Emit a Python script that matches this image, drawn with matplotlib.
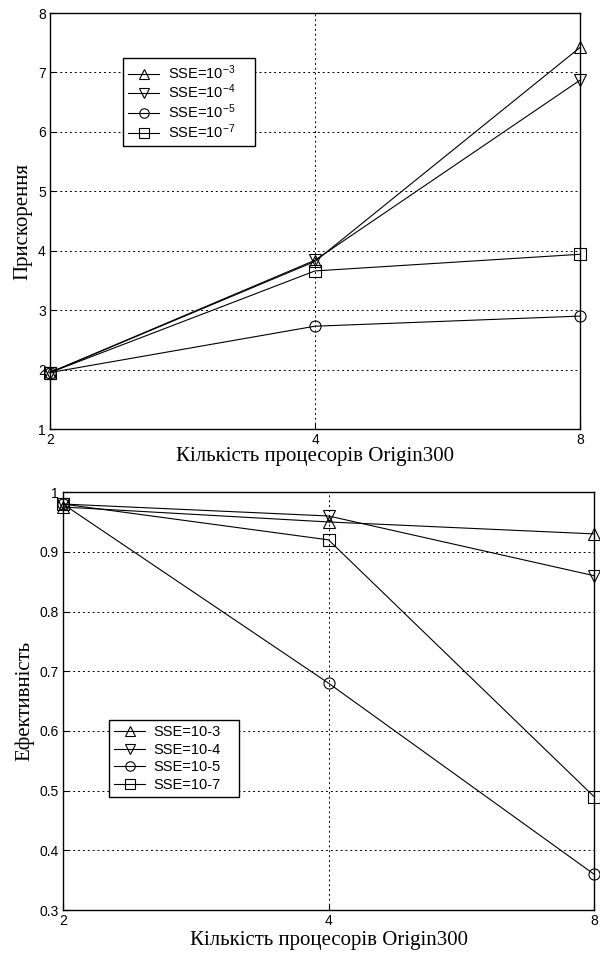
import matplotlib
matplotlib.use('Agg')
import matplotlib.pyplot as plt
from matplotlib.ticker import FixedLocator, FixedFormatter

procs = [2, 4, 8]

speedup_1e3 = [1.95, 3.82, 7.42]
speedup_1e4 = [1.95, 3.84, 6.87]
speedup_1e5 = [1.95, 2.73, 2.90]
speedup_1e7 = [1.95, 3.66, 3.94]

eff_1e3 = [0.975, 0.95, 0.93]
eff_1e4 = [0.98, 0.96, 0.86]
eff_1e5 = [0.98, 0.68, 0.36]
eff_1e7 = [0.98, 0.92, 0.49]

labels_top = ['SSE=10$^{-3}$', 'SSE=10$^{-4}$', 'SSE=10$^{-5}$', 'SSE=10$^{-7}$']
labels_bot = ['SSE=10-3', 'SSE=10-4', 'SSE=10-5', 'SSE=10-7']
markers = ['^', 'v', 'o', 's']
xlabel = 'Кількість процесорів Origin300'

plt.rcParams['font.family'] = ['Liberation Sans', 'DejaVu Sans']
plt.rcParams['mathtext.fontset'] = 'custom'
plt.rcParams['mathtext.rm'] = 'Liberation Sans'
plt.rcParams['mathtext.it'] = 'Liberation Sans'
plt.rcParams['legend.markerscale'] = 0.85

fig = plt.figure(figsize=(6, 9.63), dpi=100)
ax1 = fig.add_axes([0.0833, 0.5545, 0.8834, 0.432])
ax2 = fig.add_axes([0.105, 0.055, 0.885, 0.434])


def style(ax, yticks, ylim, ylabel, xpad):
    ax.set_xscale('log', base=2)
    ax.set_xlim(2, 8)
    ax.xaxis.set_major_locator(FixedLocator(procs))
    ax.xaxis.set_major_formatter(FixedFormatter([str(p) for p in procs]))
    ax.xaxis.set_minor_locator(FixedLocator([]))
    ax.set_ylim(*ylim)
    ax.set_yticks(yticks)
    ax.tick_params(direction='in', length=4, width=0.8, labelsize=10, pad=3)
    ax.grid(True, linestyle=(0, (2, 3)), color='black', linewidth=0.7)
    for s in ax.spines.values():
        s.set_linewidth(1.0)
    ax.set_xlabel(xlabel, family=['Liberation Serif'], fontsize=15, labelpad=xpad)
    ax.set_ylabel(ylabel, family=['Liberation Serif'], fontsize=15, labelpad=4)


def legend(ax, anchor, spacing):
    leg = ax.legend(loc='upper left', bbox_to_anchor=anchor, mode='expand', fontsize=10.5,
                    fancybox=False, edgecolor='black', framealpha=1, handlelength=2.1,
                    borderpad=0.35, labelspacing=spacing, handletextpad=0.6,
                    borderaxespad=0)
    leg.get_frame().set_linewidth(1.0)


series_top = [speedup_1e3, speedup_1e4, speedup_1e5, speedup_1e7]
for y, m, lab in zip(series_top, markers, labels_top):
    ax1.plot(procs, y, color='black', linewidth=0.8, marker=m, markersize=8,
             markerfacecolor='none', markeredgewidth=0.8, label=lab, clip_on=False)
style(ax1, range(1, 9), (1, 8), 'Прискорення', 0)
ax1.set_yticklabels([str(v) for v in range(1, 9)])
legend(ax1, (0.138, 0.692, 0.249, 0.2), 0.08)

series_bot = [eff_1e3, eff_1e4, eff_1e5, eff_1e7]
for y, m, lab in zip(series_bot, markers, labels_bot):
    ax2.plot(procs, y, color='black', linewidth=0.8, marker=m, markersize=8,
             markerfacecolor='none', markeredgewidth=0.8, label=lab, clip_on=False)
yt = [0.3, 0.4, 0.5, 0.6, 0.7, 0.8, 0.9, 1.0]
style(ax2, yt, (0.3, 1.0), 'Ефективність', 2)
ax2.set_yticklabels(['0.3', '0.4', '0.5', '0.6', '0.7', '0.8', '0.9', '1'])
legend(ax2, (0.087, 0.2545, 0.245, 0.2), 0.25)

fig.savefig('out.png', dpi=100)
